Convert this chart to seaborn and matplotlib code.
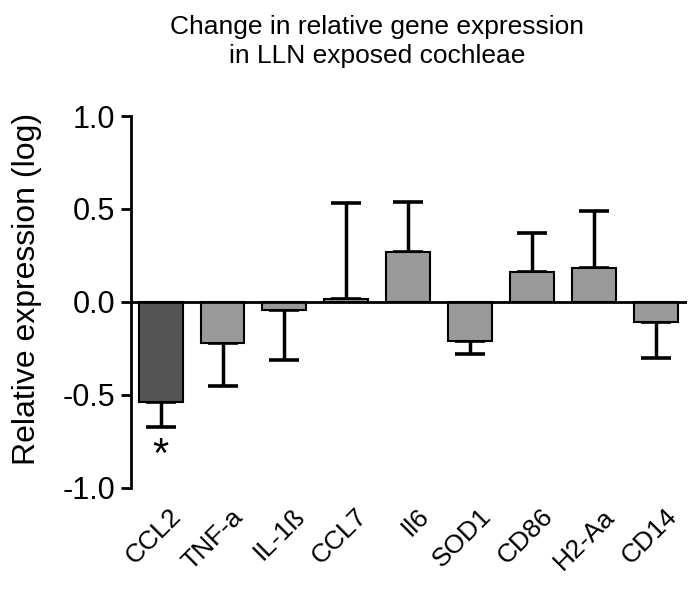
import numpy as np
import pandas as pd
import seaborn as sns
import matplotlib.pyplot as plt
import matplotlib.transforms as mtransforms

# Data
genes = ['CCL2', 'TNF-a', 'IL-1ß', 'CCL7', 'Il6', 'SOD1', 'CD86', 'H2-Aa', 'CD14']
values = [-0.54, -0.22, -0.045, 0.016, 0.27, -0.21, 0.16, 0.18, -0.11]
errors = [0.135, 0.23, 0.27, 0.515, 0.265, 0.07, 0.21, 0.31, 0.19]
significant = ['CCL2']

sns.set_style('white')
plt.rcParams['font.family'] = ['Liberation Sans', 'DejaVu Sans']
for key in ['text.color', 'axes.labelcolor', 'xtick.color', 'ytick.color']:
    plt.rcParams[key] = 'black'

df = pd.DataFrame({'gene': genes, 'value': values, 'err': errors})
colors = ['#555555' if g in significant else '#9a9a9a' for g in genes]

fig = plt.figure(figsize=(7, 5.92), dpi=100)
ax = fig.add_axes([0.187, 0.176, 0.794, 0.628])

sns.barplot(data=df, x='gene', y='value', hue='gene', palette=colors,
            legend=False, width=0.71, edgecolor='black', linewidth=1.5,
            ax=ax, zorder=2)

# one-sided error bars, pointing away from zero
vals = np.array(values)
errs = np.array(errors)
lower = np.where(vals < 0, errs, 0)
upper = np.where(vals >= 0, errs, 0)
ax.errorbar(np.arange(len(genes)), vals, yerr=[lower, upper], fmt='none',
            ecolor='black', elinewidth=2.5, capsize=10.5, capthick=2.6,
            zorder=1)

ax.axhline(0, color='black', lw=2, zorder=3)

# significance marks
for i, g in enumerate(genes):
    if g in significant:
        ax.text(i, vals[i] - errs[i] - 0.045, '*', ha='center', va='top',
                fontsize=30)

ax.set_xlim(-0.48, 8.5)
ax.set_ylim(-1.0, 1.0)
ax.set_yticks([-1.0, -0.5, 0.0, 0.5, 1.0])
ax.set_yticklabels(['-1.0', '-0.5', '0.0', '0.5', '1.0'])
ax.tick_params(axis='y', direction='out', length=7, width=2, labelsize=22,
               left=True, pad=4)
ax.tick_params(axis='x', length=0, labelsize=19, pad=18)
shift = mtransforms.ScaledTranslation(0.17, 0, fig.dpi_scale_trans)
for lab in ax.get_xticklabels():
    lab.set_rotation(45)
    lab.set_ha('right')
    lab.set_va('center')
    lab.set_rotation_mode('anchor')
    lab.set_transform(lab.get_transform() + shift)
ax.set_xlabel('')
ax.set_ylabel('Relative expression (log)', fontsize=23)
ax.yaxis.set_label_coords(-0.16, 0.535)

for spine in ['top', 'right', 'bottom']:
    ax.spines[spine].set_visible(False)
ax.spines['left'].set_linewidth(2)
ax.spines['left'].set_color('black')

fig.text(0.539, 0.975, 'Change in relative gene expression\nin LLN exposed cochleae',
         ha='center', va='top', fontsize=19, linespacing=1.25)

fig.savefig('out.png', dpi=100)
